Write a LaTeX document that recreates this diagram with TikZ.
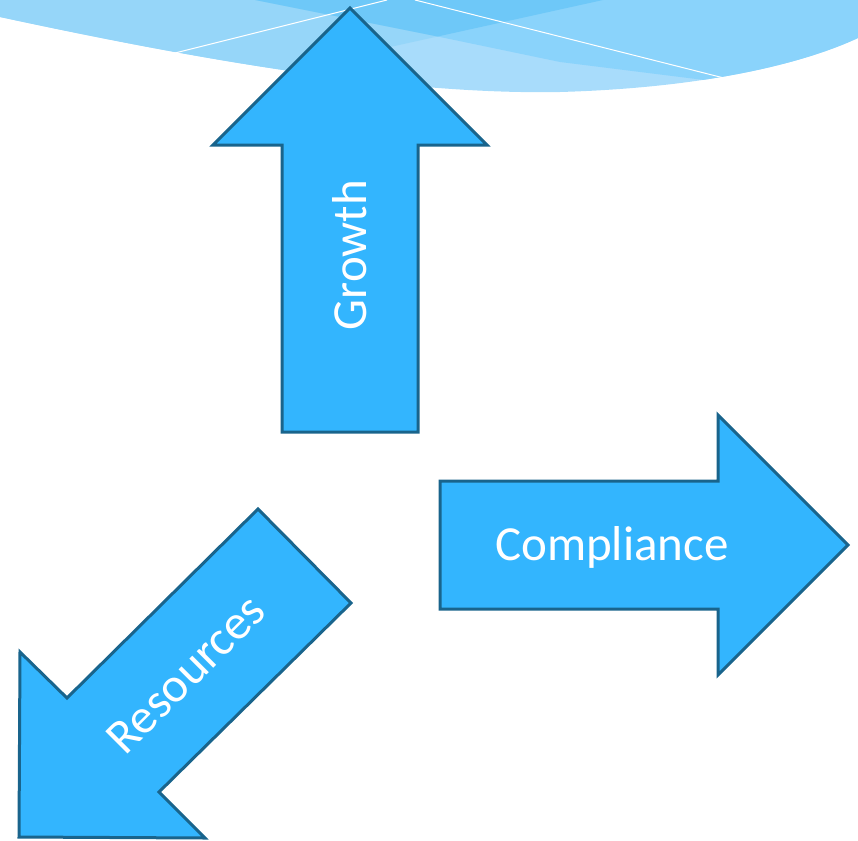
\documentclass[tikz,border=0pt]{standalone}
\usepackage{fontspec}
\setmainfont{Carlito}
\usetikzlibrary{positioning}
\definecolor{arrowfill}{RGB}{51,181,254}
\definecolor{arrowline}{RGB}{25,100,140}
\definecolor{wavebase}{RGB}{168,220,251}
\definecolor{waveleft}{RGB}{150,214,249}
\definecolor{waveright}{RGB}{138,211,251}
\definecolor{wavedark}{RGB}{110,200,248}

\begin{document}
\begin{tikzpicture}[x=1pt,y=-1pt,
    bigarrow/.style={fill=arrowfill,draw=arrowline,line width=3pt,line join=miter},
    arrowtext/.style={text=white,font=\fontsize{49pt}{58pt}\selectfont,inner sep=0pt}]
	 \useasboundingbox (0,0) rectangle (858,840);
	 % wave band at the top
	 \begin{scope}
	   \clip (0,0) -- (0,17) .. controls (200,60) and (400,95) .. (560,92)
	         .. controls (700,88) and (800,65) .. (858,38) -- (858,0) -- cycle;
	   \fill[wavebase] (0,0) rectangle (858,100);
	   \fill[waveleft] (0,0) -- (603,0) -- (150,100) -- (0,100) -- cycle;
	   \fill[waveright] (255,0) -- (440,37) -- (560,62) -- (720,82) -- (870,98) -- (870,0) -- cycle;
	   \clip (0,0) -- (603,0) -- (150,100) -- (0,100) -- cycle;
	   \fill[wavedark] (255,0) -- (440,37) -- (560,62) -- (720,82) -- (870,98) -- (870,0) -- cycle;
	 \end{scope}
	 \coordinate (w1a) at (175,53);
	 \coordinate (w1b) at (387,0);
	 \coordinate (w2a) at (415,0);
	 \coordinate (w2b) at (724,78);
	 \draw[white,line width=1pt] (w1a) -- (w1b);
	 \draw[white,line width=1pt] (w2a) -- (w2b);

	 % the three arrows
	 \draw[bigarrow] (350,8) -- (487,145) -- (418,145) -- (418,432) -- (282,432)
	       -- (282,145) -- (213,145) -- cycle;
	 \draw[bigarrow] (848,545) -- (718,675) -- (718,609) -- (440,609) -- (440,481)
	       -- (718,481) -- (718,415) -- cycle;
	 \draw[bigarrow] (19,837) -- (20,652) -- (67,698) -- (258,509) -- (351,603)
	       -- (159,792) -- (205,838) -- cycle;

	 \node at (350,255) [arrowtext,rotate=90] (growth) {Growth};
	 \node at (612,547) [arrowtext] (compliance) {Compliance};
	 \node at (186,674) [arrowtext,rotate=45] (resources) {Resources};
\end{tikzpicture}
\end{document}
